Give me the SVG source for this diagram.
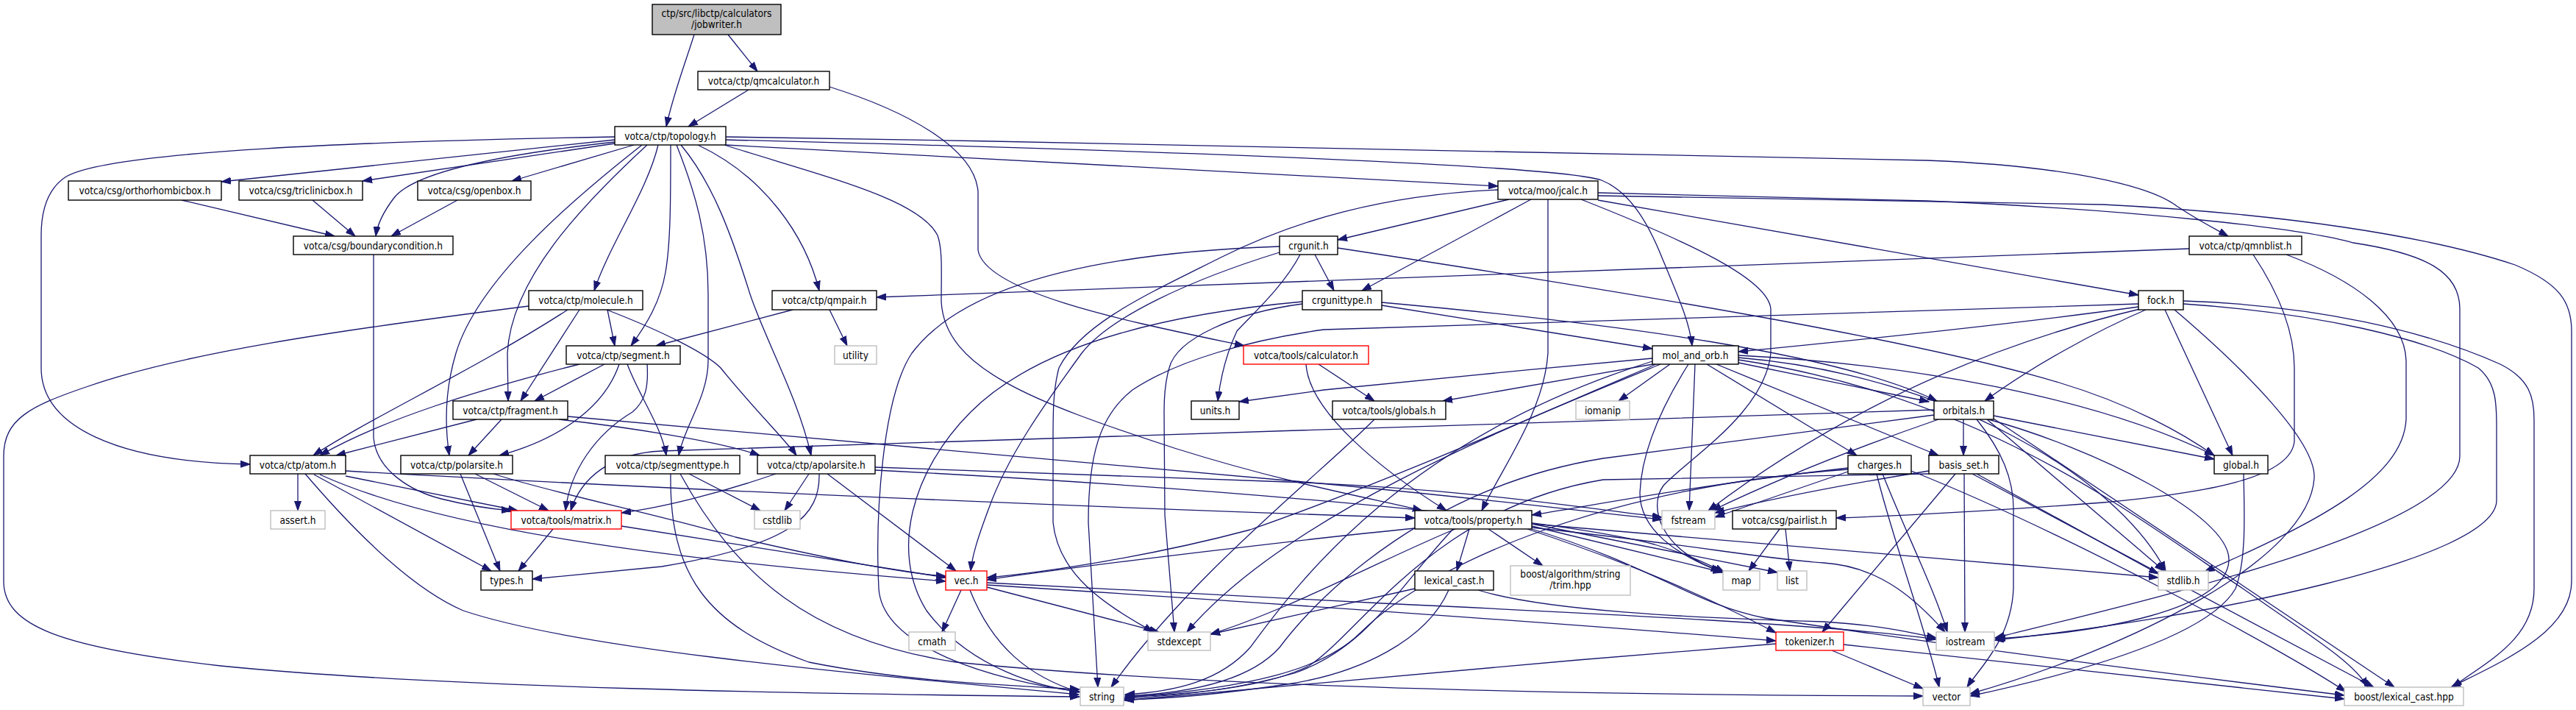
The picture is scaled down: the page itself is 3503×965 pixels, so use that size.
<svg xmlns="http://www.w3.org/2000/svg" width="3503" height="965" viewBox="0 0 3503 965">
<style>
rect{fill:#fff;stroke:#000;stroke-width:1.4}
.g rect{stroke:#bfbfbf}
.r rect{stroke:#ff0000}
.f rect{fill:#bfbfbf}
text{font-family:"DejaVu Sans Condensed","Liberation Sans",sans-serif;font-size:13.6px;text-anchor:middle;fill:#000}
.e path{fill:none;stroke:#191970;stroke-width:1.3;marker-end:url(#a)}
</style>
<defs><marker id="a" markerWidth="14" markerHeight="10" refX="13" refY="5" orient="auto" markerUnits="userSpaceOnUse"><path d="M0,0.5 L13,5 L0,9.5 z" fill="#191970" stroke="#191970" stroke-width="1"/></marker></defs>
<rect x="0" y="0" width="3503" height="965" style="fill:#fff;stroke:none"/>
<g id="edges" class="e">
<path d="M944,47 C932,85 915,130 906,172"/>
<path d="M990,47 L1030,97"/>
<path d="M1018,122 L936,172"/>
<path d="M1128,118 C1230,150 1325,200 1330,260 L1330,340 C1340,400 1550,440 1692,470"/>
<path d="M836,186 C500,192 150,205 90,240 C62,258 56,290 56,320 L56,500 C56,580 160,628 340,631"/>
<path d="M836,190 L301,247"/>
<path d="M836,195 L493,246"/>
<path d="M862,197 L696,246"/>
<path d="M836,193 C680,210 560,235 535,270 C520,290 513,305 511,321"/>
<path d="M873,197 C780,270 650,380 620,480 C605,530 605,580 611,619"/>
<path d="M880,197 C790,280 695,380 690,480 L691,545"/>
<path d="M895,197 C880,260 830,330 808,395"/>
<path d="M912,197 C912,270 912,330 905,370 C898,410 880,440 858,470"/>
<path d="M920,197 C945,260 963,320 963,400 L963,490 C963,540 930,580 923,619"/>
<path d="M926,197 C970,250 995,320 1020,400 C1040,460 1085,540 1103,619"/>
<path d="M949,197 C1040,240 1095,320 1114,395"/>
<path d="M985,197 C1120,240 1250,270 1275,320 C1282,340 1280,370 1280,410 C1285,500 1400,545 1600,610 C1760,660 1880,680 1934,694"/>
<path d="M987,186 C1600,196 2300,208 2620,218 C2800,225 2920,250 2960,280 C2990,300 3010,310 3030,321"/>
<path d="M987,190 C1600,205 2120,225 2178,245 C2215,260 2240,300 2260,350 C2285,410 2298,440 2301,470"/>
<path d="M987,197 L2037,253"/>
<path d="M508,346 L508,595 C512,640 560,668 600,678 C640,688 670,692 695,694"/>
<path d="M247,272 L455,321"/>
<path d="M425,272 L483,321"/>
<path d="M622,272 L532,321"/>
<path d="M2052,271 L1819,326"/>
<path d="M2082,271 L1852,395"/>
<path d="M2105,271 L2105,480 C2100,560 2040,640 2015,694"/>
<path d="M2150,271 C2300,330 2405,380 2408,420 L2408,480 C2400,560 2300,620 2262,660 C2240,690 2260,750 2340,776"/>
<path d="M2173,272 L2908,401"/>
<path d="M2173,262 L2620,273 C2900,285 3130,310 3200,330 C3300,345 3345,370 3345,420 L3345,620 C3345,720 2900,820 2713,867"/>
<path d="M2173,266 L2860,278 C3100,290 3300,320 3420,360 C3480,385 3497,410 3497,450 L3497,790 C3497,860 3400,900 3333,934"/>
<path d="M2037,258 C1880,265 1760,300 1660,350 C1560,400 1470,440 1440,500 C1432,530 1432,560 1432,600 L1432,710 C1440,790 1520,830 1568,859"/>
<path d="M1788,346 L1814,395"/>
<path d="M1768,346 C1745,390 1700,430 1682,450 C1668,480 1660,510 1656,545"/>
<path d="M1819,337 C2200,395 2600,460 2800,520 C2900,550 2970,590 3011,619"/>
<path d="M1740,343 C1620,380 1510,430 1471,480 C1420,550 1370,620 1345,690 C1330,730 1322,755 1320,776"/>
<path d="M1740,335 C1450,345 1300,400 1240,480 C1200,540 1190,700 1195,800 C1200,880 1350,925 1468,940"/>
<path d="M2977,338 L1192,404"/>
<path d="M3064,346 C3100,400 3120,450 3120,500 L3120,600 C3115,650 3000,670 2860,683 C2700,695 2560,702 2497,704"/>
<path d="M3109,346 C3200,380 3270,430 3272,490 L3272,570 C3268,650 3150,710 2998,777"/>
<path d="M2908,417 C2800,432 2600,455 2364,478"/>
<path d="M2908,413 L1800,448 C1700,462 1600,490 1540,530 C1495,565 1480,620 1480,710 L1493,934"/>
<path d="M2918,421 C2850,450 2760,500 2699,545"/>
<path d="M2910,420 C2700,470 2500,560 2323,694"/>
<path d="M2944,421 L3036,619"/>
<path d="M2957,421 C3050,500 3150,600 3147,650 C3140,760 2900,880 2679,943"/>
<path d="M2969,413 C3150,425 3300,460 3370,500 C3395,520 3395,550 3395,580 L3395,680 C3395,760 3000,840 2712,870"/>
<path d="M2969,409 C3150,415 3300,450 3400,495 C3440,515 3446,540 3446,570 L3446,800 C3446,870 3380,900 3335,934"/>
<path d="M2271,495 L2201,545"/>
<path d="M2296,495 C2255,560 2232,620 2230,670 C2230,720 2280,755 2343,778"/>
<path d="M2305,495 L2297,694"/>
<path d="M2321,495 L2525,619"/>
<path d="M2334,495 L2636,619"/>
<path d="M2364,493 L2623,546"/>
<path d="M2248,495 L1962,545"/>
<path d="M2247,487 C2100,500 1900,520 1800,530 L1685,546"/>
<path d="M2252,495 C2100,560 1900,650 1700,720 C1550,760 1400,780 1342,785"/>
<path d="M2247,491 C1900,600 1760,800 1700,880 C1660,925 1600,940 1530,944"/>
<path d="M2258,495 C2050,580 1750,700 1614,859"/>
<path d="M2364,483 C2600,495 2850,540 3011,619"/>
<path d="M2364,486 C2650,510 2880,650 2945,776"/>
<path d="M2364,489 C2700,540 2900,700 3050,800 C3150,870 3200,900 3220,934"/>
<path d="M2670,570 L2670,619"/>
<path d="M2630,557 L900,613 C830,616 790,650 776,694"/>
<path d="M2688,570 C2720,610 2740,650 2738,700 L2738,800 C2735,870 2690,910 2675,934"/>
<path d="M2702,570 L2943,776"/>
<path d="M2711,565 L3011,624"/>
<path d="M2711,569 L3256,934"/>
<path d="M2704,570 C2850,610 3030,700 3031,760 C3031,830 2850,860 2714,868"/>
<path d="M2636,570 C2520,610 2420,650 2328,694"/>
<path d="M2630,564 L2180,623 C1950,660 1800,800 1740,880 C1700,925 1620,942 1530,946"/>
<path d="M2671,644 L2672,859"/>
<path d="M2659,644 L2478,859"/>
<path d="M2682,644 L3228,934"/>
<path d="M2688,644 L2935,780"/>
<path d="M2623,640 C2500,660 2400,680 2332,697"/>
<path d="M2623,644 L2180,652 C1950,690 1850,860 1780,905 C1720,935 1620,944 1530,947"/>
<path d="M2560,644 C2590,720 2630,800 2648,859"/>
<path d="M2552,644 C2570,720 2620,860 2637,934"/>
<path d="M2599,640 C2800,720 3100,880 3190,940"/>
<path d="M2513,641 L2332,703"/>
<path d="M2513,636 C2300,660 2150,690 2083,700"/>
<path d="M2513,638 C2200,660 1950,760 1850,860 C1800,910 1700,935 1530,948"/>
<path d="M1998,719 L1981,776"/>
<path d="M2024,719 L2098,769"/>
<path d="M2083,715 L2343,778"/>
<path d="M2083,712 L2417,778"/>
<path d="M2083,712 L2740,768 L2935,785"/>
<path d="M2083,717 C2300,740 2400,760 2480,765 C2560,770 2610,820 2645,859"/>
<path d="M2077,719 C2200,760 2300,800 2415,860"/>
<path d="M2083,719 C2250,770 2300,820 2400,840 C2600,870 2900,910 3188,945"/>
<path d="M1924,718 C1800,730 1500,765 1342,788"/>
<path d="M1976,719 C1900,800 1860,880 1760,915 C1680,938 1600,946 1529,949"/>
<path d="M1979,719 C1880,760 1750,830 1646,862"/>
<path d="M1776,495 C1780,560 1880,640 1967,694"/>
<path d="M1793,495 L1869,545"/>
<path d="M470,640 C900,665 1500,690 1924,704"/>
<path d="M1924,800 L1646,862"/>
<path d="M1970,802 C1940,870 1850,915 1750,930 C1650,945 1580,950 1529,951"/>
<path d="M2010,802 C2100,830 2300,840 2480,845 C2560,850 2600,860 2633,867"/>
<path d="M2415,875 C2100,900 1700,935 1529,952"/>
<path d="M2491,884 L2615,936"/>
<path d="M2507,876 L3188,950"/>
<path d="M1307,802 L1281,859"/>
<path d="M1319,802 C1350,880 1400,920 1468,941"/>
<path d="M1342,798 L1576,859"/>
<path d="M1342,792 L1880,820 C2200,835 2500,850 2633,869"/>
<path d="M1342,795 C1700,818 2100,845 2415,871"/>
<path d="M752,719 L705,776"/>
<path d="M845,715 L1286,785"/>
<path d="M405,644 L405,694"/>
<path d="M427,645 L668,776"/>
<path d="M470,647 L704,694"/>
<path d="M435,645 C600,720 900,760 1286,790"/>
<path d="M415,644 C480,720 560,800 630,830 C780,880 1100,910 1467,944"/>
<path d="M626,644 L680,776"/>
<path d="M646,644 L746,694"/>
<path d="M671,644 C750,670 900,700 1000,730 C1150,765 1240,780 1286,783"/>
<path d="M937,644 L1034,694"/>
<path d="M912,644 C910,780 960,850 1100,900 C1250,930 1400,932 1468,937"/>
<path d="M925,644 C1000,780 1100,870 1300,900 C1700,940 2300,945 2615,946"/>
<path d="M1100,644 L1067,694"/>
<path d="M1055,644 C980,670 900,690 845,697"/>
<path d="M1125,644 L1300,776"/>
<path d="M1114,644 C1115,700 1080,740 900,770 L724,787"/>
<path d="M1190,635 L1750,655 C2000,665 2150,690 2260,703"/>
<path d="M1190,639 C1600,660 2100,700 2250,740 C2290,752 2320,765 2345,778"/>
<path d="M772,566 L1750,653 C2000,675 2150,695 2260,706"/>
<path d="M648,570 L457,619"/>
<path d="M682,570 L637,619"/>
<path d="M760,570 C850,580 980,600 1033,619"/>
<path d="M822,495 L727,545"/>
<path d="M788,495 C650,530 520,570 435,619"/>
<path d="M842,495 C820,560 750,600 679,619"/>
<path d="M853,495 C870,540 900,580 906,619"/>
<path d="M880,495 C882,525 878,545 860,560 C810,590 775,640 769,694"/>
<path d="M826,421 L836,470"/>
<path d="M788,421 L708,545"/>
<path d="M772,421 C650,500 500,570 426,619"/>
<path d="M719,416 C450,450 250,480 120,525 C40,552 5,570 5,620 L5,790 C5,850 80,880 300,905 C600,935 1100,943 1468,947"/>
<path d="M825,421 C900,450 960,480 980,500 C1020,550 1070,600 1083,619"/>
<path d="M1078,421 L892,470"/>
<path d="M1128,421 L1152,470"/>
<path d="M1879,415 L2247,474"/>
<path d="M1879,411 C2200,440 2500,480 2634,545"/>
<path d="M1771,413 C1680,425 1600,460 1590,500 C1584,520 1583,540 1583,560 L1584,700 L1597,859"/>
<path d="M1771,410 C1550,430 1400,480 1320,560 C1240,640 1210,750 1260,830 C1320,910 1420,935 1468,940"/>
<path d="M1869,570 C1800,640 1620,780 1511,934"/>
<path d="M2420,719 L2378,776"/>
<path d="M2428,719 L2434,776"/>
<path d="M3051,644 C3052,700 3055,760 3040,800 C3000,870 2800,920 2679,946"/>
</g>
<g id="n_jobwriter" class="f"><rect x="887" y="6" width="175" height="41"/><text x="974.5" y="23">ctp/src/libctp/calculators</text><text x="974.5" y="38">/jobwriter.h</text></g>
<g id="n_qmcalculator"><rect x="949" y="97" width="179" height="25"/><text x="1038.5" y="114.5">votca/ctp/qmcalculator.h</text></g>
<g id="n_topology"><rect x="836" y="172" width="151" height="25"/><text x="911.5" y="189.5">votca/ctp/topology.h</text></g>
<g id="n_ortho"><rect x="93" y="246" width="208" height="26"/><text x="197" y="264">votca/csg/orthorhombicbox.h</text></g>
<g id="n_tricl"><rect x="325" y="246" width="168" height="26"/><text x="409" y="264">votca/csg/triclinicbox.h</text></g>
<g id="n_openbox"><rect x="568" y="246" width="154" height="26"/><text x="645" y="264">votca/csg/openbox.h</text></g>
<g id="n_jcalc"><rect x="2037" y="246" width="136" height="25"/><text x="2105" y="263.5">votca/moo/jcalc.h</text></g>
<g id="n_boundary"><rect x="399" y="321" width="217" height="25"/><text x="507.5" y="338.5">votca/csg/boundarycondition.h</text></g>
<g id="n_crgunit"><rect x="1740" y="321" width="79" height="25"/><text x="1779.5" y="338.5">crgunit.h</text></g>
<g id="n_qmnblist"><rect x="2977" y="321" width="153" height="25"/><text x="3053.5" y="338.5">votca/ctp/qmnblist.h</text></g>
<g id="n_molecule"><rect x="719" y="395" width="155" height="26"/><text x="796.5" y="413">votca/ctp/molecule.h</text></g>
<g id="n_qmpair"><rect x="1050" y="395" width="142" height="26"/><text x="1121" y="413">votca/ctp/qmpair.h</text></g>
<g id="n_crgunittype"><rect x="1771" y="395" width="108" height="26"/><text x="1825" y="413">crgunittype.h</text></g>
<g id="n_fock"><rect x="2908" y="395" width="61" height="26"/><text x="2938.5" y="413">fock.h</text></g>
<g id="n_segment"><rect x="770" y="470" width="155" height="25"/><text x="847.5" y="487.5">votca/ctp/segment.h</text></g>
<g id="n_utility" class="g"><rect x="1135" y="470" width="57" height="25"/><text x="1163.5" y="487.5">utility</text></g>
<g id="n_calculator" class="r"><rect x="1691" y="470" width="170" height="25"/><text x="1776" y="487.5">votca/tools/calculator.h</text></g>
<g id="n_mol_and_orb"><rect x="2247" y="470" width="117" height="25"/><text x="2305.5" y="487.5">mol_and_orb.h</text></g>
<g id="n_fragment"><rect x="616" y="545" width="156" height="25"/><text x="694" y="562.5">votca/ctp/fragment.h</text></g>
<g id="n_units"><rect x="1620" y="545" width="65" height="25"/><text x="1652.5" y="562.5">units.h</text></g>
<g id="n_globals"><rect x="1812" y="545" width="154" height="25"/><text x="1889" y="562.5">votca/tools/globals.h</text></g>
<g id="n_iomanip" class="g"><rect x="2143" y="545" width="73" height="25"/><text x="2179.5" y="562.5">iomanip</text></g>
<g id="n_orbitals"><rect x="2630" y="545" width="81" height="25"/><text x="2670.5" y="562.5">orbitals.h</text></g>
<g id="n_atom"><rect x="340" y="619" width="130" height="25"/><text x="405" y="636.5">votca/ctp/atom.h</text></g>
<g id="n_polarsite"><rect x="545" y="619" width="152" height="25"/><text x="621" y="636.5">votca/ctp/polarsite.h</text></g>
<g id="n_segmenttype"><rect x="823" y="619" width="183" height="25"/><text x="914.5" y="636.5">votca/ctp/segmenttype.h</text></g>
<g id="n_apolarsite"><rect x="1030" y="619" width="160" height="25"/><text x="1110" y="636.5">votca/ctp/apolarsite.h</text></g>
<g id="n_charges"><rect x="2513" y="619" width="86" height="25"/><text x="2556" y="636.5">charges.h</text></g>
<g id="n_basis_set"><rect x="2623" y="619" width="95" height="25"/><text x="2670.5" y="636.5">basis_set.h</text></g>
<g id="n_global"><rect x="3011" y="619" width="73" height="25"/><text x="3047.5" y="636.5">global.h</text></g>
<g id="n_assert" class="g"><rect x="368" y="694" width="74" height="25"/><text x="405" y="711.5">assert.h</text></g>
<g id="n_matrix" class="r"><rect x="695" y="694" width="150" height="25"/><text x="770" y="711.5">votca/tools/matrix.h</text></g>
<g id="n_cstdlib" class="g"><rect x="1026" y="694" width="62" height="25"/><text x="1057" y="711.5">cstdlib</text></g>
<g id="n_property"><rect x="1924" y="694" width="159" height="25"/><text x="2003.5" y="711.5">votca/tools/property.h</text></g>
<g id="n_fstream" class="g"><rect x="2260" y="694" width="72" height="25"/><text x="2296" y="711.5">fstream</text></g>
<g id="n_pairlist"><rect x="2356" y="694" width="141" height="25"/><text x="2426.5" y="711.5">votca/csg/pairlist.h</text></g>
<g id="n_types"><rect x="654" y="776" width="70" height="26"/><text x="689" y="794">types.h</text></g>
<g id="n_vec" class="r"><rect x="1286" y="776" width="56" height="26"/><text x="1314" y="794">vec.h</text></g>
<g id="n_lexical_cast"><rect x="1924" y="776" width="107" height="26"/><text x="1977.5" y="794">lexical_cast.h</text></g>
<g id="n_trim" class="g"><rect x="2054" y="769" width="163" height="40"/><text x="2135.5" y="785">boost/algorithm/string</text><text x="2135.5" y="800">/trim.hpp</text></g>
<g id="n_map" class="g"><rect x="2343" y="776" width="50" height="26"/><text x="2368" y="794">map</text></g>
<g id="n_list" class="g"><rect x="2417" y="776" width="40" height="26"/><text x="2437" y="794">list</text></g>
<g id="n_stdlib" class="g"><rect x="2935" y="776" width="68" height="26"/><text x="2969" y="794">stdlib.h</text></g>
<g id="n_cmath" class="g"><rect x="1236" y="859" width="63" height="25"/><text x="1267.5" y="876.5">cmath</text></g>
<g id="n_stdexcept" class="g"><rect x="1561" y="859" width="85" height="25"/><text x="1603.5" y="876.5">stdexcept</text></g>
<g id="n_tokenizer" class="r"><rect x="2415" y="859" width="92" height="25"/><text x="2461" y="876.5">tokenizer.h</text></g>
<g id="n_iostream" class="g"><rect x="2633" y="859" width="79" height="25"/><text x="2672.5" y="876.5">iostream</text></g>
<g id="n_string" class="g"><rect x="1469" y="934" width="59" height="25"/><text x="1498.5" y="951.5">string</text></g>
<g id="n_vector" class="g"><rect x="2615" y="934" width="64" height="25"/><text x="2647" y="951.5">vector</text></g>
<g id="n_boostlc" class="g"><rect x="3188" y="934" width="162" height="25"/><text x="3269" y="951.5">boost/lexical_cast.hpp</text></g>
</svg>
